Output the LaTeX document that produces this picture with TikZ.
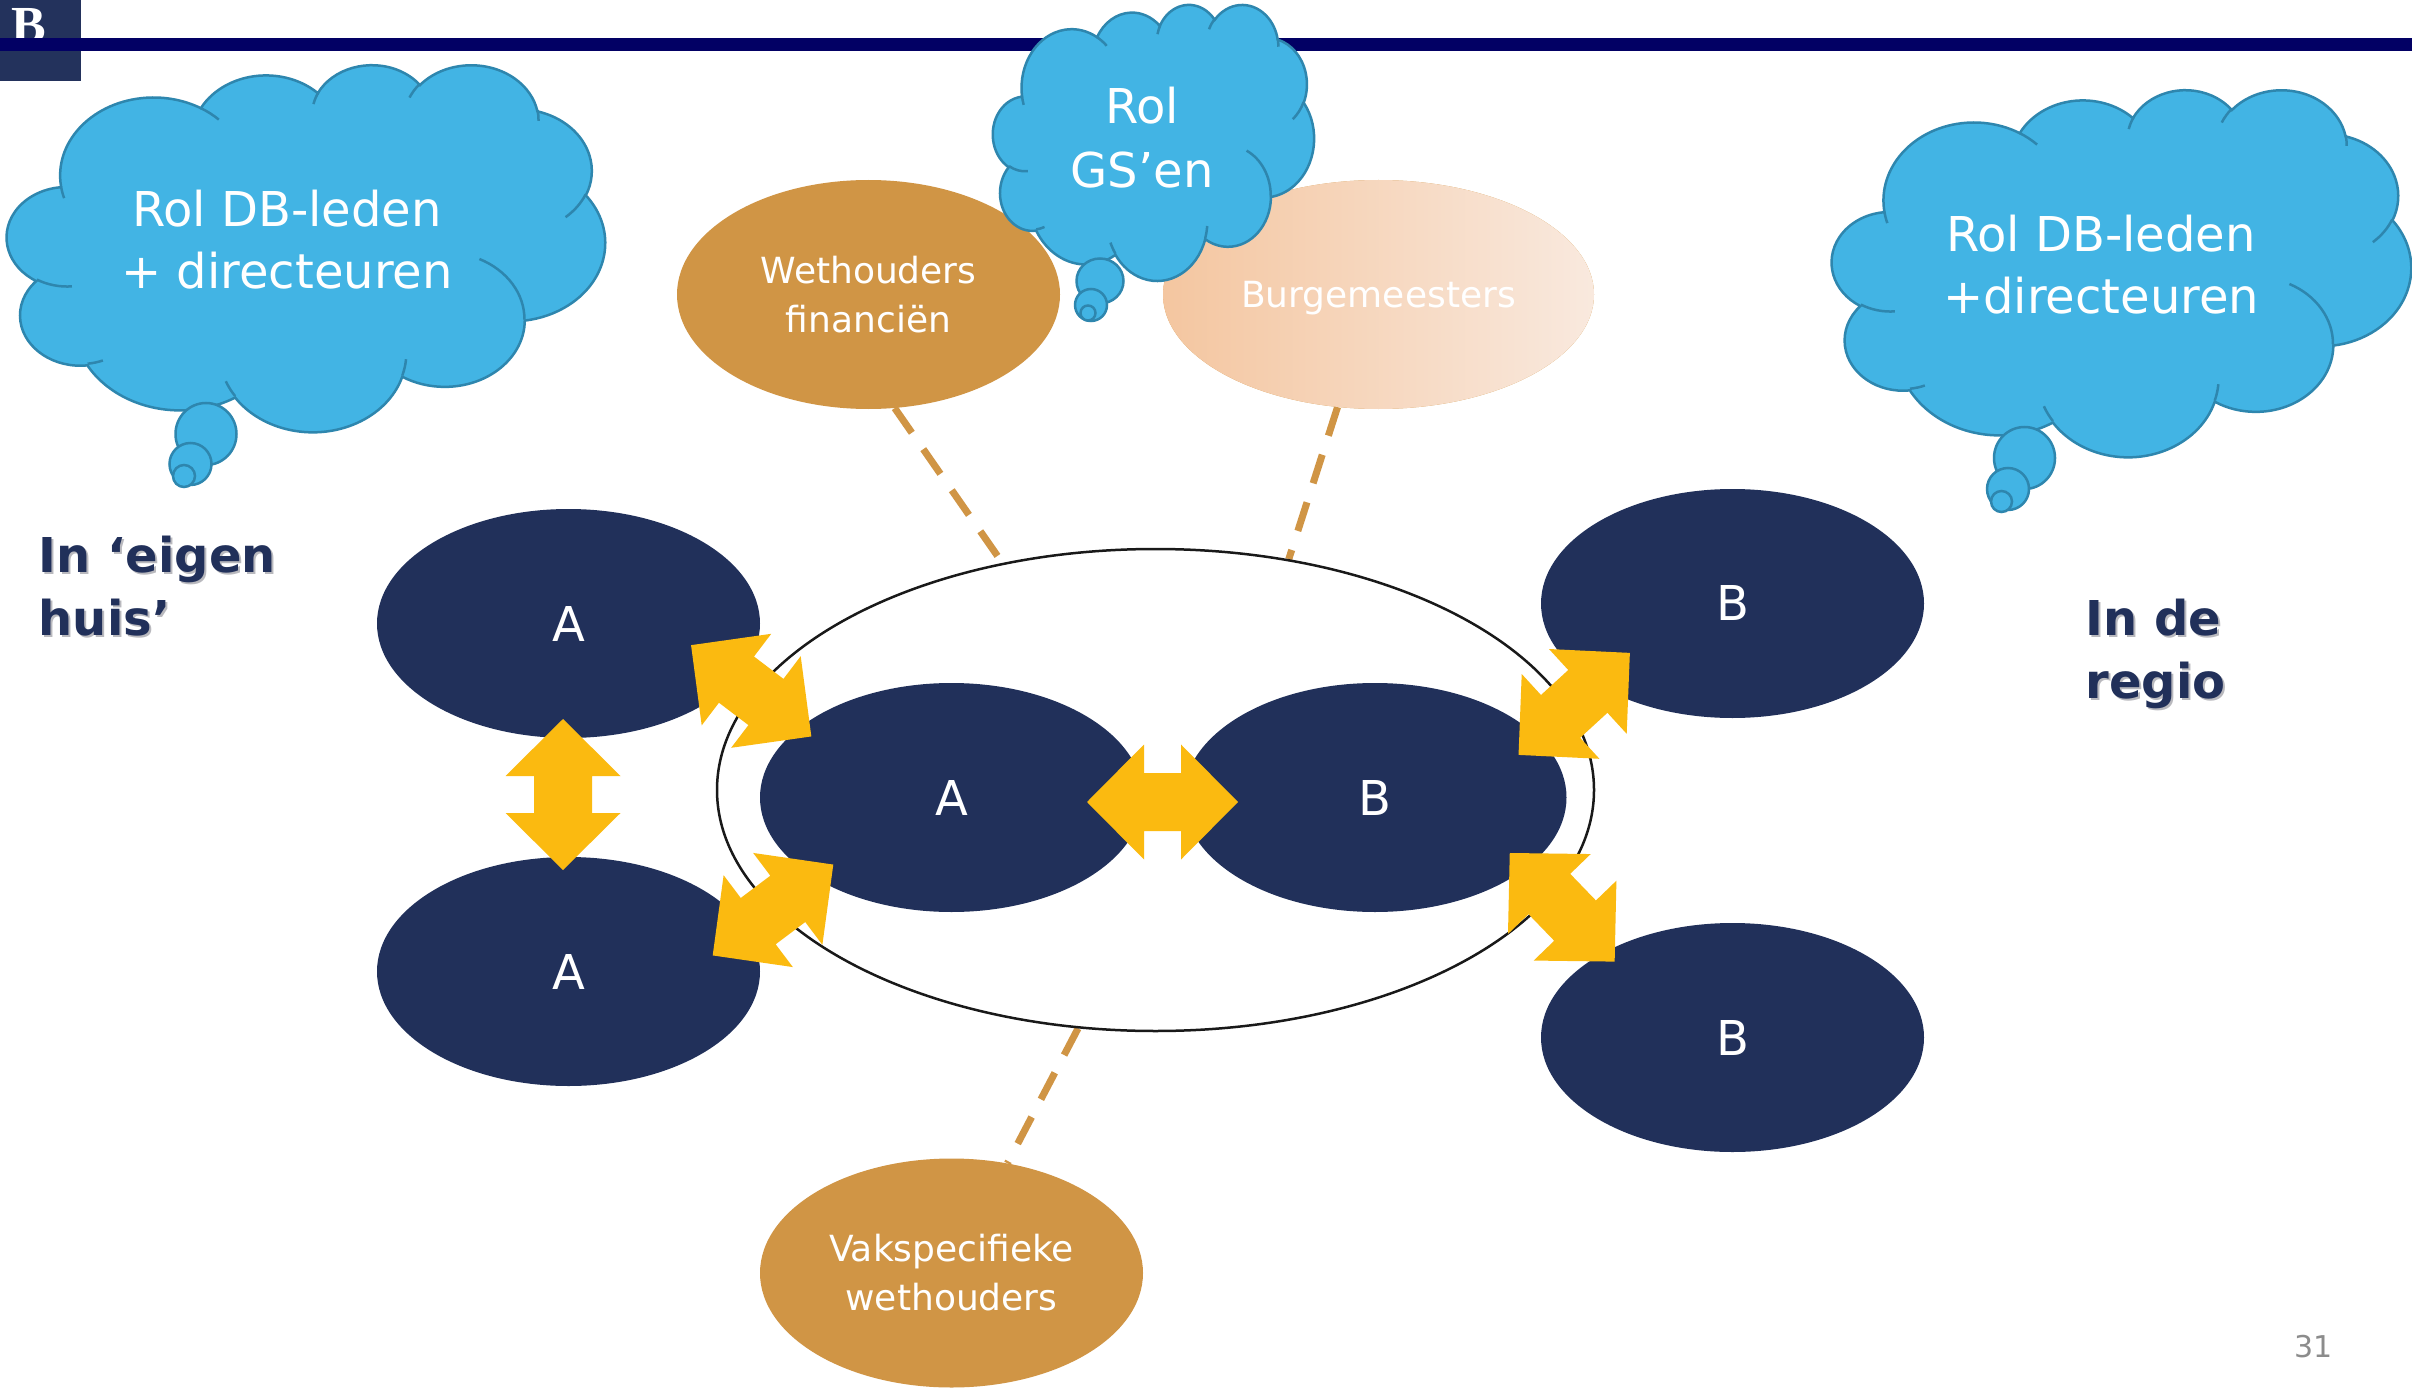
\documentclass[tikz,border=0pt]{standalone}
\usepackage{fontspec}
\setmainfont{DejaVu Sans}
\newfontfamily\logofont{Liberation Serif}
\usetikzlibrary{shapes.geometric}
\definecolor{navy}{RGB}{33,48,90}
\definecolor{logonavy}{RGB}{35,50,92}
\definecolor{barnavy}{RGB}{2,0,100}
\definecolor{cloudfill}{RGB}{66,180,228}
\definecolor{cloudline}{RGB}{46,134,174}
\definecolor{orng}{RGB}{208,149,69}
\definecolor{yell}{RGB}{251,186,16}
\definecolor{peachA}{RGB}{244,198,160}
\definecolor{peachB}{RGB}{249,233,222}
\definecolor{ringblack}{RGB}{25,25,25}
\definecolor{shadowgray}{RGB}{185,185,190}
\definecolor{pagegray}{RGB}{140,140,140}
\pgfdeclarelayer{bg}
\pgfdeclarelayer{lines}
\pgfsetlayers{bg,lines,main}
\tikzset{
  cloudbody/.style={fill=cloudfill, draw=cloudline, line width=2.5pt},
  cloudarc/.style={draw=cloudline, line width=2.5pt},
  cloudtext/.style={align=center, text=white, font=\fontsize{48}{62}\selectfont, inner sep=0pt},
  navyell/.style={ellipse, fill=navy, minimum width=383pt, minimum height=229pt, inner sep=0pt, text=white, font=\fontsize{48}{58}\selectfont},
  orngell/.style={ellipse, fill=orng, minimum width=383pt, minimum height=229pt, inner sep=0pt, text=white, align=center, font=\fontsize{36}{49}\selectfont},
  dashconn/.style={draw=orng, line width=7pt, dash pattern=on 30pt off 20pt},
  sidetext/.style={anchor=north west, inner sep=0pt, align=left, font=\bfseries\fontsize{48}{63}\selectfont},
  dblarrow/.pic={\fill[yell] (-75.5,0) -- (-18.5,-57.5) -- (-18.5,-29) -- (18.5,-29) -- (18.5,-57.5) -- (75.5,0) -- (18.5,57.5) -- (18.5,29) -- (-18.5,29) -- (-18.5,57.5) -- cycle;}
}
\newcommand\drawcloud[4]{%
 \begin{scope}[shift={(#1,#2)}, xscale=#3/432, yscale=#4/432]
  \path[cloudbody] (39.00,143.70)
   arc[start angle=172.26, end angle=300.37, x radius=67.53, y radius=91.90]
   arc[start angle=-152.03, end angle=-45.45, x radius=53.33, y radius=72.67]
   arc[start angle=-153.50, end angle=-37.33, x radius=43.65, y radius=59.45]
   arc[start angle=-139.71, end angle=-10.21, x radius=48.57, y radius=65.95]
   arc[start angle=-74.77, end angle=23.21, x radius=53.33, y radius=72.73]
   arc[start angle=-37.52, end angle=81.86, x radius=67.75, y radius=92.20]
   arc[start angle=0.46, end angle=121.98, x radius=57.85, y radius=78.67]
   arc[start angle=16.84, end angle=146.21, x radius=67.52, y radius=92.15]
   arc[start angle=58.98, end angle=150.19, x radius=77.20, y radius=105.43]
   arc[start angle=83.31, end angle=223.10, x radius=43.60, y radius=59.18]
   arc[start angle=120.36, end angle=264.11, x radius=43.45, y radius=59.45]
   -- cycle;
  \path[cloudarc] (46.93,261.77) arc[start angle=85.55, end angle=120.36, x radius=43.45, y radius=59.45]
   (69.28,348.99) arc[start angle=68.24, end angle=83.31, x radius=43.60, y radius=59.18]
   (164.78,390.90) arc[start angle=146.21, end angle=158.47, x radius=67.52, y radius=92.15]
   (288.27,347.51) arc[start angle=4.74, end angle=16.84, x radius=67.52, y radius=92.15]
   (341.29,229.54) arc[start angle=-64.03, end angle=0.46, x radius=57.85, y radius=78.67]
   (417.98,153.54) arc[start angle=23.21, end angle=49.64, x radius=53.33, y radius=72.73]
   (383.24,54.26) arc[start angle=-10.21, end angle=0.82, x radius=48.57, y radius=65.95]
   (290.78,39.52) arc[start angle=-156.29, end angle=-139.71, x radius=48.57, y radius=65.95]
   (221.41,47.20) arc[start angle=-167.73, end angle=-153.50, x radius=43.65, y radius=59.45]
   (140.00,51.92) arc[start angle=-59.64, end angle=-45.72, x radius=67.53, y radius=91.90]
   (41.27,157.89) arc[start angle=163.20, end angle=172.26, x radius=67.53, y radius=91.90];
 \end{scope}}
\begin{document}
\begin{tikzpicture}[x=1pt,y=1pt,yscale=-1]
\useasboundingbox (0,0) rectangle (2412,1388);
\begin{pgfonlayer}{bg}
\fill[white] (0,0) rectangle (2412,1388);
\end{pgfonlayer}
% logo and top bar
\fill[logonavy] (0,0) rectangle (81,81);
\node[anchor=north west, inner sep=0pt, text=white, font=\logofont\bfseries\fontsize{52}{60}\selectfont] (logo) at (11,8) {B};
\fill[barnavy] (0,38.5) rectangle (2412,51.5);
% ring and ellipses
\node[ellipse, draw=ringblack, line width=2.5pt, minimum width=877pt, minimum height=482pt, inner sep=0pt] (ring) at (1155.5,790) {};
\node[navyell] (a1) at (568.5,623.5) {A};
\node[navyell] (a2) at (568.5,971.5) {A};
\node[navyell] (a3) at (951.5,797.5) {A};
\node[navyell] (b3) at (1375,797.5) {B};
\node[navyell] (b1) at (1732.5,603.5) {B};
\node[navyell] (b2) at (1732.5,1037.5) {B};
\node[orngell] (wf) at (868.5,294.5) {Wethouders\\financiën};
\node[orngell, left color=peachA, right color=peachB, minimum width=431pt, text depth=0pt] (bm) at (1378.5,294.5) {Burgemeesters};
\node[orngell] (vw) at (951.5,1273) {Vakspecifieke\\wethouders};
% dashed connectors
\begin{pgfonlayer}{lines}
\draw[dashconn] (wf.-77.3) -- (ring.124.5);
\draw[dashconn] (bm.-110.3) -- (ring.60.5);
\draw[dashconn] (ring.-108.9) -- (vw.63.4);
\end{pgfonlayer}
% yellow double arrows
\pic[rotate=90] at (563,794.5) {dblarrow};
\pic at (1162.5,802) {dblarrow};
\pic[rotate=-37.2] at (751.2,690.8) {dblarrow};
\pic[rotate=37] at (773,910) {dblarrow};
\pic[rotate=42.5] at (1574.2,703.9) {dblarrow};
\pic[rotate=-46] at (1562.2,907.3) {dblarrow};
% side texts
\node[sidetext, text=shadowgray] (eigensh) at (40.5,538) {In ‘eigen\\huis’};
\node[sidetext, text=navy] (eigen) at (38.5,535.5) {In ‘eigen\\huis’};
\node[sidetext, text=shadowgray] (regiosh) at (2087.5,601) {In de\\regio};
\node[sidetext, text=navy] (regio) at (2085.5,598.5) {In de\\regio};
% clouds
\drawcloud{7}{64}{598}{367}
\draw[cloudbody] (206,434) ellipse[x radius=30.5, y radius=31];
\draw[cloudbody] (190.5,464) circle[radius=21];
\draw[cloudbody] (184,476) circle[radius=11];
\node[cloudtext] (c1) at (287,239.75) {Rol DB-leden\\+ directeuren};
\drawcloud{993}{4}{321}{276}
\draw[cloudbody] (1100,281) ellipse[x radius=23.5, y radius=22.5];
\draw[cloudbody] (1091,305) circle[radius=16];
\draw[cloudbody] (1088,313) circle[radius=7.5];
\node[cloudtext, font=\fontsize{48}{64}\selectfont] (c2) at (1142,137.75) {Rol\\GS’en};
\drawcloud{1832}{89}{579}{367}
\draw[cloudbody] (2024.5,458) ellipse[x radius=30.5, y radius=31];
\draw[cloudbody] (2008,489) circle[radius=21];
\draw[cloudbody] (2001.5,501.5) circle[radius=10.5];
\node[cloudtext] (c3) at (2101,264.75) {Rol DB-leden\\+directeuren};
% page number
\node[anchor=base west, inner sep=0pt, text=pagegray, font=\fontsize{30}{36}\selectfont] (pg) at (2294,1357) {31};
\end{tikzpicture}
\end{document}
